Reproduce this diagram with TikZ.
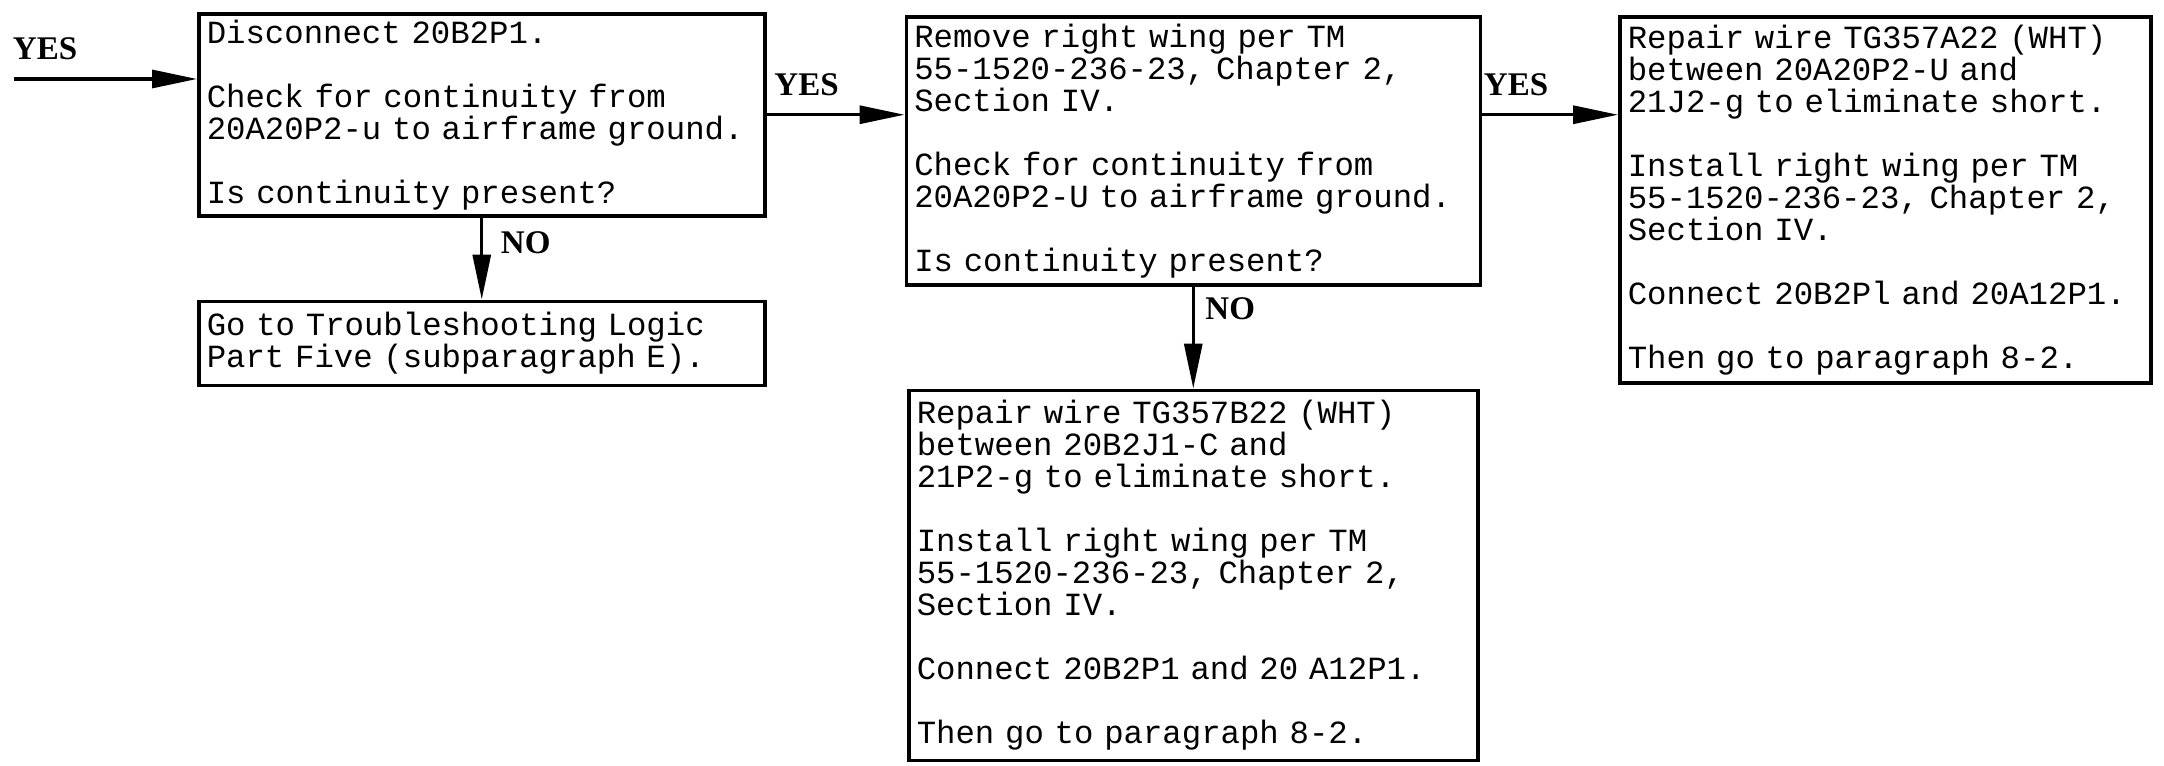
\documentclass[tikz,border=0pt]{standalone}
\usepackage{fontspec}
\usepackage{tikz}
\usetikzlibrary{arrows.meta,positioning,calc}
\newfontfamily\boxfont{Liberation Mono}
\newfontfamily\lblfont{Liberation Serif}

\begin{document}
\begin{tikzpicture}[
  blk/.style={rectangle,draw,line width=1pt,inner xsep=0.8mm,inner ysep=0.3mm,align=left,font=\boxfont\fontsize{9.2pt}{9.1pt}\selectfont},
  lbl/.style={font=\lblfont\bfseries\fontsize{9.4pt}{9pt}\selectfont,inner sep=1pt},
  arr/.style={-{Triangle[length=4.5mm,width=1.8mm]},line width=0.9pt}]
  \useasboundingbox (0,0) rectangle (21.64,-7.66);

  % first check
  \node[blk,text width=5.50cm,minimum height=2.02cm,anchor=north west] (d1) at (1.97,-0.12)
    {Disconnect 20B2P1.\\[9.1pt]Check for continuity from\\20A20P2-u to airframe ground.\\[9.1pt]Is continuity present?};
  \node[blk,text width=5.50cm,minimum height=0.84cm,below=0.82cm of d1] (d2)
    {Go to Troubleshooting Logic\\Part Five (subparagraph E).};

  % wing removed
  \node[blk,text width=5.58cm,minimum height=2.68cm,right=1.38cm of d1.north east,anchor=north west,yshift=-0.3mm] (d3)
    {Remove right wing per TM\\55-1520-236-23, Chapter 2,\\Section IV.\\[9.1pt]Check for continuity from\\20A20P2-U to airframe ground.\\[9.1pt]Is continuity present?};
  \node[blk,text width=5.53cm,minimum height=3.70cm,below=1.02cm of d3] (d4)
    {Repair wire TG357B22 (WHT)\\between 20B2J1-C and\\21P2-g to eliminate short.\\[9.1pt]Install right wing per TM\\55-1520-236-23, Chapter 2,\\Section IV.\\[9.1pt]Connect 20B2P1 and 20 A12P1.\\[9.1pt]Then go to paragraph 8-2.};

  % repair A wire
  \node[blk,text width=5.15cm,minimum height=3.66cm,right=1.36cm of d3.north east,anchor=north west] (d5)
    {Repair wire TG357A22 (WHT)\\between 20A20P2-U and\\21J2-g to eliminate short.\\[9.1pt]Install right wing per TM\\55-1520-236-23, Chapter 2,\\Section IV.\\[9.1pt]Connect 20B2Pl and 20A12P1.\\[9.1pt]Then go to paragraph 8-2.};

  \coordinate (in) at (0.14,-0.79);
  \draw[arr] (in) -- (in -| d1.west) node[lbl,pos=0.17,above=4pt]{YES};
  \draw[arr] (d1.east) -- (d1.east -| d3.west) node[lbl,pos=0.29,above=4pt]{YES};
  \draw[arr] (d1.east -| d3.east) -- (d1.east -| d5.west) node[lbl,pos=0.25,above=4pt]{YES};
  \draw[arr] (d1.south) -- (d2.north) node[lbl,pos=0.31,right=4pt]{NO};
  \draw[arr] (d3.south) -- (d3.south |- d4.north) node[lbl,pos=0.22,right=2pt]{NO};
\end{tikzpicture}
\end{document}
